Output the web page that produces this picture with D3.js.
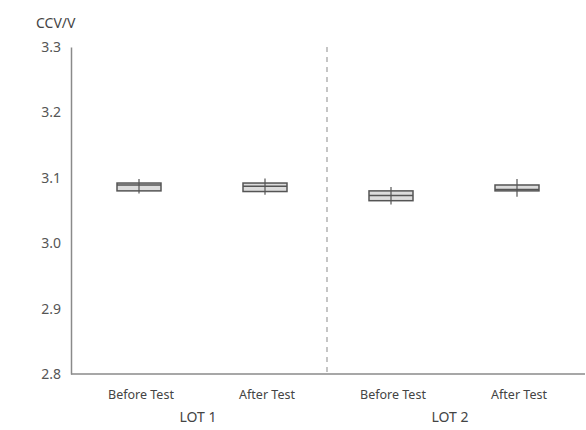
<!DOCTYPE html>
<html>
<head>
<meta charset="utf-8">
<script src="https://cdn.jsdelivr.net/npm/d3@7"></script>
<style>
  html, body { margin: 0; padding: 0; background: #fff; }
  svg { display: block; font-family: "Noto Sans", "DejaVu Sans", sans-serif; }
</style>
</head>
<body>
<svg id="chart" width="586" height="430"></svg>
<script>
// Box-plot statistics of closed-circuit voltage per group
const lots = ["LOT 1", "LOT 2"];
const phases = ["Before Test", "After Test"];
const groups = ["LOT 1|Before Test", "LOT 1|After Test", "LOT 2|Before Test", "LOT 2|After Test"];
const minValues    = [3.076, 3.074, 3.059, 3.071];
const q1Values     = [3.080, 3.079, 3.065, 3.080];
const medianValues = [3.089, 3.087, 3.073, 3.082];
const q3Values     = [3.092, 3.092, 3.080, 3.089];
const maxValues    = [3.098, 3.099, 3.086, 3.098];
const yTicks = [2.8, 2.9, 3.0, 3.1, 3.2, 3.3];
const yLabel = "CCV/V";

const svg = d3.select("#chart");
const axisLeft = 71, axisRight = 585, axisTop = 47, axisBottom = 374;

const y = d3.scaleLinear().domain([2.8, 3.3]).range([axisBottom, axisTop]);
const x = d3.scaleBand().domain(groups).range([76, 580]).padding(0);
const lotX = d3.scaleBand().domain(lots).range([76, 580]).padding(0);

const boxes = groups.map((g, i) => ({
  key: g, min: minValues[i], q1: q1Values[i], median: medianValues[i], q3: q3Values[i], max: maxValues[i]
}));

// y axis
const yAxis = svg.append("g")
  .attr("transform", `translate(${axisLeft},0)`)
  .call(d3.axisLeft(y).tickValues(yTicks).tickFormat(d3.format(".1f")).tickSize(0).tickPadding(10));
yAxis.select(".domain").attr("stroke", "#8a8a8a").attr("stroke-width", 1.5);
yAxis.selectAll("text").attr("fill", "#555").style("font-size", "14px").style("font-family", "Noto Sans, sans-serif");

// x axis line
svg.append("line")
  .attr("x1", axisLeft).attr("x2", axisRight)
  .attr("y1", axisBottom).attr("y2", axisBottom)
  .attr("stroke", "#8a8a8a").attr("stroke-width", 1.5);

// divider between lots
const divX = (lotX("LOT 1") + lotX.bandwidth() + lotX("LOT 2")) / 2 - 1;
svg.append("line")
  .attr("x1", divX).attr("x2", divX)
  .attr("y1", axisTop).attr("y2", axisBottom)
  .attr("stroke", "#a0a0a0").attr("stroke-width", 1.2)
  .attr("stroke-dasharray", "5,5");

// axis title
svg.append("text")
  .attr("x", 36).attr("y", 28)
  .attr("fill", "#444").style("font-size", "14px")
  .text(yLabel);

// group labels
svg.append("g").selectAll("text").data(groups).join("text")
  .attr("x", d => x(d) + x.bandwidth() / 2 + 2)
  .attr("y", 399)
  .attr("text-anchor", "middle")
  .attr("fill", "#444").style("font-size", "12.5px")
  .text(d => d.split("|")[1]);

svg.append("g").selectAll("text").data(lots).join("text")
  .attr("x", d => lotX(d) + lotX.bandwidth() / 2 - 4)
  .attr("y", 422)
  .attr("text-anchor", "middle")
  .attr("fill", "#444").style("font-size", "14px")
  .text(d => d);

// boxes
const boxW = 44;
const bg = svg.append("g").selectAll("g").data(boxes).join("g")
  .attr("transform", d => `translate(${x(d.key) + x.bandwidth() / 2},0)`);

bg.append("rect")
  .attr("x", -boxW / 2).attr("width", boxW)
  .attr("y", d => y(d.q3)).attr("height", d => y(d.q1) - y(d.q3))
  .attr("fill", "#dcdcdc").attr("stroke", "#555").attr("stroke-width", 1.5);

bg.append("line")
  .attr("x1", -boxW / 2).attr("x2", boxW / 2)
  .attr("y1", d => y(d.median)).attr("y2", d => y(d.median))
  .attr("stroke", "#555").attr("stroke-width", 1.5);

bg.append("line")
  .attr("x1", 0).attr("x2", 0)
  .attr("y1", d => y(d.max)).attr("y2", d => y(d.min))
  .attr("stroke", "#555").attr("stroke-width", 1.2);
</script>
</body>
</html>
